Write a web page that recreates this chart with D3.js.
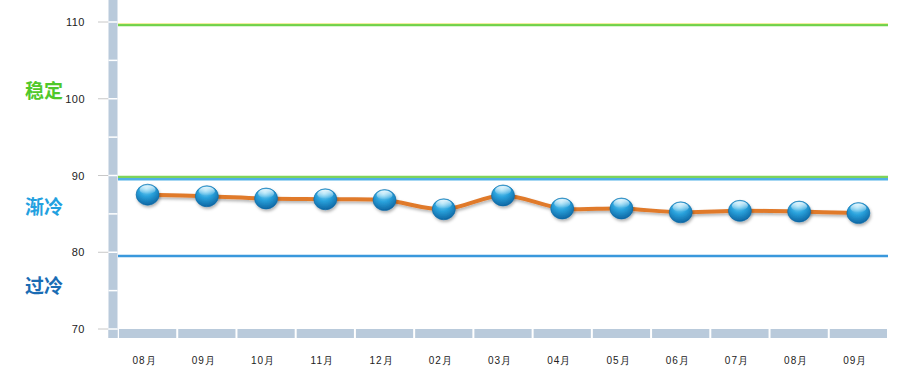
<!DOCTYPE html>
<html>
<head>
<meta charset="utf-8">
<script src="https://cdn.jsdelivr.net/npm/d3@7"></script>
<style>
  body { margin: 0; background: #fff; }
  svg { display: block; font-family: Arial, "Liberation Sans", sans-serif; }
</style>
</head>
<body>
<svg width="914" height="387"></svg>
<script>
const months = ["08月", "09月", "10月", "11月", "12月", "02月", "03月", "04月", "05月", "06月", "07月", "08月", "09月"];
const values = [87.5, 87.3, 87.0, 86.9, 86.8, 85.6, 87.4, 85.7, 85.7, 85.2, 85.4, 85.3, 85.1];
const yTicks = [70, 80, 90, 100, 110];
const minorTicks = [70, 75, 80, 85, 90, 95, 100, 105, 110];
// reference lines: value, colour
const refLines = [
    { v: 109.6, c: "#6fd24a" },
    { v: 89.8, c: "#7fd35a" },
    { v: 89.5, c: "#4fb0e6" },
    { v: 79.5, c: "#3a98dc" }
];
const zones = [
    { name: "稳定", v: 100.1, c: "#4fc82a" },
    { name: "渐冷", v: 85.0, c: "#22a0e0" },
    { name: "过冷", v: 74.7, c: "#1a6cb4" }
];

const svg = d3.select("svg");

const x = d3.scaleBand()
    .domain(d3.range(months.length))
    .range([118, 888]);

const y = d3.scaleLinear()
    .domain([70, 110])
    .range([329, 22]);

const defs = svg.append("defs");

const grad = defs.append("radialGradient")
    .attr("id", "ball")
    .attr("cx", "45%").attr("cy", "30%").attr("r", "75%")
    .attr("fx", "45%").attr("fy", "20%");
grad.append("stop").attr("offset", "0%").attr("stop-color", "#8fdcf8");
grad.append("stop").attr("offset", "45%").attr("stop-color", "#2aa2dc");
grad.append("stop").attr("offset", "100%").attr("stop-color", "#0a5f9c");

const shine = defs.append("linearGradient")
    .attr("id", "shine")
    .attr("x1", "0").attr("y1", "0").attr("x2", "0").attr("y2", "1");
shine.append("stop").attr("offset", "0%").attr("stop-color", "#ffffff").attr("stop-opacity", 0.85);
shine.append("stop").attr("offset", "100%").attr("stop-color", "#ffffff").attr("stop-opacity", 0);

const shadow = defs.append("filter").attr("id", "shadow")
    .attr("x", "-20%").attr("y", "-20%").attr("width", "150%").attr("height", "180%");
shadow.append("feDropShadow")
    .attr("dx", 1).attr("dy", 2).attr("stdDeviation", 1.5)
    .attr("flood-color", "#000").attr("flood-opacity", 0.3);

// left axis bar
svg.append("rect")
    .attr("x", 108.5).attr("y", 0)
    .attr("width", 9).attr("height", 338)
    .attr("fill", "#b9cadb");

svg.selectAll(".minor").data(minorTicks).enter().append("line")
    .attr("x1", 108.5).attr("x2", 117.5)
    .attr("y1", d => y(d)).attr("y2", d => y(d))
    .attr("stroke", "#fff").attr("stroke-width", 1.5);

svg.selectAll(".tick").data(yTicks).enter().append("line")
    .attr("x1", 98).attr("x2", 108)
    .attr("y1", d => y(d)).attr("y2", d => y(d))
    .attr("stroke", "#c8c8c8").attr("stroke-width", 1);

svg.selectAll(".ylab").data(yTicks).enter().append("text")
    .attr("x", 85).attr("y", d => y(d) + 4)
    .attr("text-anchor", "end")
    .attr("font-size", "11px")
    .attr("letter-spacing", "0.5px")
    .attr("fill", "#222")
    .text(d => d);

// bottom axis bar
svg.append("rect")
    .attr("x", 108.5).attr("y", 330)
    .attr("width", 9).attr("height", 8)
    .attr("fill", "#b9cadb");

svg.selectAll(".seg").data(months).enter().append("rect")
    .attr("x", (d, i) => x(i) + 1)
    .attr("y", 329)
    .attr("width", x.bandwidth() - 2)
    .attr("height", 9)
    .attr("fill", "#b9cadb");

svg.selectAll(".xlab").data(months).enter().append("text")
    .attr("x", (d, i) => x(i) + x.bandwidth() / 2 - 3)
    .attr("y", 364)
    .attr("text-anchor", "middle")
    .attr("font-size", "10px")
    .attr("letter-spacing", "1px")
    .attr("fill", "#222")
    .text(d => d);

// reference lines
svg.selectAll(".ref").data(refLines).enter().append("line")
    .attr("x1", 118).attr("x2", 888)
    .attr("y1", d => y(d.v)).attr("y2", d => y(d.v))
    .attr("stroke", d => d.c).attr("stroke-width", 2.5);

svg.append("line")
    .attr("x1", 118).attr("x2", 888)
    .attr("y1", y(refLines[0].v) - 1.5).attr("y2", y(refLines[0].v) - 1.5)
    .attr("stroke", "#f2ee9a").attr("stroke-width", 1);

// zone labels
svg.selectAll(".zone").data(zones).enter().append("text")
    .attr("x", 25).attr("y", d => y(d.v))
    .attr("font-family", "'Noto Sans CJK SC', sans-serif")
    .attr("font-size", "19px")
    .attr("font-weight", "bold")
    .attr("fill", d => d.c)
    .text(d => d.name);

// series line
const line = d3.line()
    .x((d, i) => x(i) + x.bandwidth() / 2)
    .y(d => y(d))
    .curve(d3.curveCatmullRom.alpha(0.5));

svg.append("path")
    .datum(values)
    .attr("d", line)
    .attr("fill", "none")
    .attr("stroke", "#e07a2c")
    .attr("stroke-width", 4)
    .attr("filter", "url(#shadow)");

// balls
const balls = svg.selectAll(".ball").data(values).enter().append("g")
    .attr("transform", (d, i) => `translate(${x(i) + x.bandwidth() / 2}, ${y(d)})`);

balls.append("ellipse")
    .attr("rx", 11.5).attr("ry", 10.5)
    .attr("fill", "url(#ball)")
    .attr("stroke", "#0b6aa6").attr("stroke-width", 0.6)
    .attr("filter", "url(#shadow)");

balls.append("ellipse")
    .attr("cx", 0).attr("cy", -5)
    .attr("rx", 8).attr("ry", 4.5)
    .attr("fill", "url(#shine)");
</script>
</body>
</html>
